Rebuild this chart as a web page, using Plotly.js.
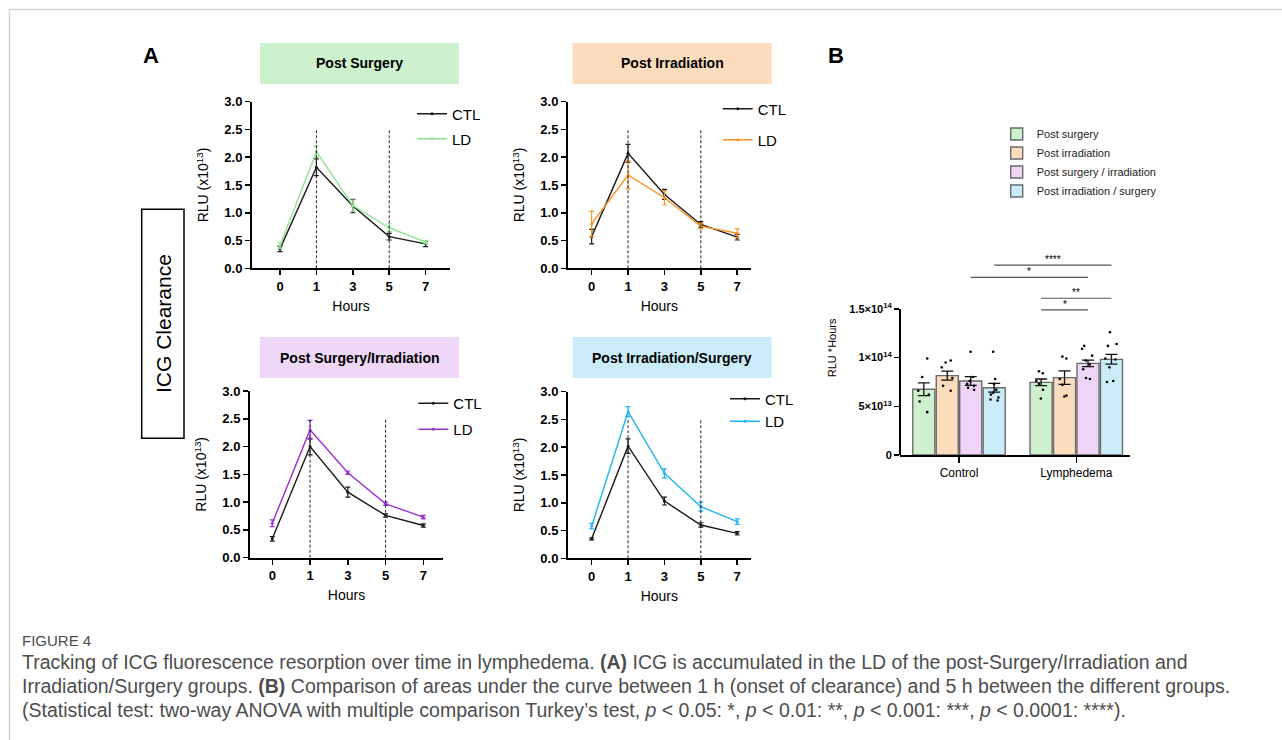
<!DOCTYPE html>
<html><head><meta charset="utf-8">
<script src="https://cdn.plot.ly/plotly-3.0.1.min.js"></script>
<style>html,body{margin:0;padding:0;background:#fff;} #chart{width:1282px;height:740px;}</style>
</head><body><div id="chart"></div>
<script>
// ---------- Panel A data (RLU x10^13) ----------
const hours = ['0', '1', '3', '5', '7'];
const clearanceWindow = ['1', '5'];
const surgeryCtl = [0.35, 1.82, 1.12, 0.57, 0.44];
const surgeryCtlSem = [0.05, 0.15, 0.12, 0.06, 0.05];
const surgeryLd = [0.41, 2.10, 1.13, 0.73, 0.47];
const surgeryLdSem = [0.05, 0.10, 0.10, 0.07, 0.03];
const irradiationCtl = [0.57, 2.07, 1.33, 0.79, 0.56];
const irradiationCtlSem = [0.13, 0.16, 0.09, 0.05, 0.05];
const irradiationLd = [0.80, 1.68, 1.27, 0.76, 0.63];
const irradiationLdSem = [0.23, 0.25, 0.13, 0.05, 0.08];
const surgIrrCtl = [0.34, 2.00, 1.18, 0.76, 0.58];
const surgIrrCtlSem = [0.04, 0.15, 0.09, 0.03, 0.03];
const surgIrrLd = [0.62, 2.30, 1.53, 0.97, 0.73];
const surgIrrLdSem = [0.06, 0.17, 0.03, 0.03, 0.03];
const irrSurgCtl = [0.35, 2.02, 1.03, 0.60, 0.45];
const irrSurgCtlSem = [0.02, 0.13, 0.07, 0.04, 0.03];
const irrSurgLd = [0.58, 2.64, 1.53, 0.93, 0.66];
const irrSurgLdSem = [0.05, 0.09, 0.08, 0.08, 0.05];

// ---------- Panel B data (RLU*Hours) ----------
const groups = ['Control', 'Lymphedema'];
const treatments = ['Post surgery', 'Post irradiation', 'Post surgery / irradiation', 'Post irradiation / surgery'];
const aucSurgery = [6.75e13, 7.46e13];
const aucSurgerySem = [0.65e13, 0.34e13];
const aucIrradiation = [8.15e13, 7.94e13];
const aucIrradiationSem = [0.47e13, 0.69e13];
const aucSurgIrr = [7.6e13, 9.41e13];
const aucSurgIrrSem = [0.45e13, 0.34e13];
const aucIrrSurg = [6.9e13, 9.82e13];
const aucIrrSurgSem = [0.45e13, 0.5e13];
const ctlSurgeryPts = [9.9e13, 8.0e13, 6.6e13, 6.2e13, 5.5e13, 4.4e13];
const ctlIrradiationPts = [9.7e13, 9.5e13, 9.0e13, 7.9e13, 7.1e13, 6.6e13];
const ctlSurgIrrPts = [10.6e13, 8.0e13, 7.6e13, 7.3e13, 7.1e13, 6.9e13, 6.7e13];
const ctlIrrSurgPts = [10.6e13, 7.8e13, 7.3e13, 6.7e13, 6.4e13, 6.2e13, 5.9e13, 5.7e13, 5.6e13];
const lymSurgeryPts = [8.6e13, 8.4e13, 7.6e13, 7.3e13, 6.7e13, 5.8e13];
const lymIrradiationPts = [10.1e13, 9.9e13, 7.8e13, 7.2e13, 6.1e13, 6.0e13];
const lymSurgIrrPts = [11.2e13, 10.9e13, 10.2e13, 9.7e13, 9.3e13, 8.8e13, 7.9e13, 7.8e13];
const lymIrrSurgPts = [12.6e13, 11.4e13, 11.2e13, 9.9e13, 9.8e13, 9.0e13, 7.6e13, 7.5e13];
const yTickVals = [0, 5e13, 1e14, 1.5e14];
const yTickText = ['0', '5×10<sup>13</sup>', '1×10<sup>14</sup>', '1.5×10<sup>14</sup>'];
// comparisons: [group, treatment index] pairs
const comparisons = [
  {a: [0, 3], b: [1, 3], level: 1.95e14, label: '****'},
  {a: [0, 2], b: [1, 2], level: 1.824e14, label: '*'},
  {a: [1, 0], b: [1, 3], level: 1.609e14, label: '**'},
  {a: [1, 0], b: [1, 2], level: 1.489e14, label: '*'}
];

// ---------- helpers / styles ----------
const W = 1282, H = 740;
const fx = p => p / W;
const fy = p => 1 - p / H;
const FONT = 'Liberation Sans, Arial, sans-serif';
const BARGAP = 0.2;
const fills = ['#cdf1cd', '#fbdcbc', '#efd6f6', '#c9ecf8'];

const panels = [
  {title: 'Post Surgery', ctl: surgeryCtl, ctlSem: surgeryCtlSem, ld: surgeryLd, ldSem: surgeryLdSem,
   ldColor: '#8fe58f', box: '#cdf1cd', xd: [252, 450], yd: [101.7, 268.3], xr: [-0.77, 4.67],
   tb: [260, 459, 43, 84], leg: [412, 97.5], gap: 2.5},
  {title: 'Post Irradiation', ctl: irradiationCtl, ctlSem: irradiationCtlSem, ld: irradiationLd, ldSem: irradiationLdSem,
   ldColor: '#f7931e', box: '#fbdcbc', xd: [568, 750.7], yd: [101.7, 268.3], xr: [-0.65, 4.37],
   tb: [572.7, 771.7, 43, 84], leg: [717.7, 92.5], gap: 8.5},
  {title: 'Post Surgery/Irradiation', ctl: surgIrrCtl, ctlSem: surgIrrCtlSem, ld: surgIrrLd, ldSem: surgIrrLdSem,
   ldColor: '#9b30d3', box: '#efd7f7', xd: [250, 443], yd: [391, 557.7], xr: [-0.59, 4.52],
   tb: [260, 459, 337, 378], leg: [413.3, 387], gap: 3.5},
  {title: 'Post Irradiation/Surgery', ctl: irrSurgCtl, ctlSem: irrSurgCtlSem, ld: irrSurgLd, ldSem: irrSurgLdSem,
   ldColor: '#1db4ef', box: '#c9ecf8', xd: [568, 750.7], yd: [391.7, 558.3], xr: [-0.65, 4.37],
   tb: [572.7, 771.7, 337, 378], leg: [725, 382.5], gap: 0}
];

const axisBase = {showline: true, linecolor: '#000', linewidth: 2, ticks: 'outside', ticklen: 5,
  tickwidth: 1.5, tickcolor: '#000', showgrid: false, zeroline: false, fixedrange: true};
const boldTick = {family: FONT, size: 13, color: '#000', weight: 'bold'};

const traces = [];
const shapes = [];
const annotations = [];
const layout = {
  width: W, height: H, margin: {l: 0, r: 0, t: 0, b: 0},
  paper_bgcolor: '#fff', plot_bgcolor: 'rgba(0,0,0,0)',
  font: {family: FONT, color: '#000'},
  showlegend: true,
  barmode: 'group', bargap: BARGAP, bargroupgap: 0.06,
  boxmode: 'group', boxgap: BARGAP, boxgroupgap: 0.3
};

panels.forEach((p, i) => {
  const n = i + 1;
  const xa = 'x' + (n === 1 ? '' : n), ya = 'y' + (n === 1 ? '' : n);
  const legName = 'legend' + (n === 1 ? '' : n);
  layout['xaxis' + (n === 1 ? '' : n)] = Object.assign({}, axisBase, {
    domain: [fx(p.xd[0]), fx(p.xd[1])], anchor: ya, type: 'category',
    categoryorder: 'array', categoryarray: hours, range: p.xr, tickfont: boldTick,
    title: {text: 'Hours', font: {family: FONT, size: 14, color: '#000'}, standoff: 8}
  });
  layout['yaxis' + (n === 1 ? '' : n)] = Object.assign({}, axisBase, {
    domain: [fy(p.yd[1]), fy(p.yd[0])], anchor: xa, range: [0, 3], tick0: 0, dtick: 0.5,
    tickformat: '.1f', tickfont: boldTick,
    title: {text: 'RLU (x10<sup>13</sup>)', font: {family: FONT, size: 14, color: '#000'}, standoff: 12}
  });
  layout[legName] = {x: fx(p.leg[0]), y: fy(p.leg[1]), xanchor: 'left', yanchor: 'top',
    bgcolor: 'rgba(0,0,0,0)', borderwidth: 0, tracegroupgap: p.gap, traceorder: 'grouped',
    font: {family: FONT, size: 15, color: '#000'}};
  traces.push({
    type: 'scatter', mode: 'lines+markers', name: 'CTL', x: hours, y: p.ctl,
    xaxis: xa, yaxis: ya, legend: legName, legendgroup: 'ctl' + n,
    line: {color: '#1a1a1a', width: 1.4}, marker: {color: '#1a1a1a', size: 3},
    error_y: {type: 'data', array: p.ctlSem, visible: true, color: '#1a1a1a', thickness: 1.2, width: 2.5}
  });
  traces.push({
    type: 'scatter', mode: 'lines+markers', name: 'LD', x: hours, y: p.ld,
    xaxis: xa, yaxis: ya, legend: legName, legendgroup: 'ld' + n,
    line: {color: p.ldColor, width: 1.4}, marker: {color: p.ldColor, size: 3},
    error_y: {type: 'data', array: p.ldSem, visible: true, color: p.ldColor, thickness: 1.2, width: 2.5}
  });
  clearanceWindow.forEach(h => {
    const idx = hours.indexOf(h);
    shapes.push({type: 'line', xref: xa, yref: ya, x0: idx, x1: idx, y0: 0, y1: 2.5,
      line: {color: '#222', width: 1, dash: '3px,2px'}});
  });
  shapes.push({type: 'rect', xref: 'paper', yref: 'paper', x0: fx(p.tb[0]), x1: fx(p.tb[1]),
    y0: fy(p.tb[3]), y1: fy(p.tb[2]), fillcolor: p.box, line: {width: 0}, layer: 'below'});
  annotations.push({xref: 'paper', yref: 'paper', x: fx((p.tb[0] + p.tb[1]) / 2), y: fy((p.tb[2] + p.tb[3]) / 2),
    text: '<b>' + p.title + '</b>', showarrow: false, font: {family: FONT, size: 14, color: '#000'},
    xanchor: 'center', yanchor: 'middle'});
});

// ---------- Panel B ----------
const aucMeans = [aucSurgery, aucIrradiation, aucSurgIrr, aucIrrSurg];
const aucSems = [aucSurgerySem, aucIrradiationSem, aucSurgIrrSem, aucIrrSurgSem];
const ctlPts = [ctlSurgeryPts, ctlIrradiationPts, ctlSurgIrrPts, ctlIrrSurgPts];
const lymPts = [lymSurgeryPts, lymIrradiationPts, lymSurgIrrPts, lymIrrSurgPts];

treatments.forEach((t, k) => {
  traces.push({
    type: 'bar', name: t, x: groups, y: aucMeans[k], xaxis: 'x5', yaxis: 'y5', legend: 'legend5',
    marker: {color: fills[k], line: {color: '#6a6a6a', width: 1.4}},
    error_y: {type: 'data', array: aucSems[k], visible: true, color: '#111', thickness: 1.3, width: 6}
  });
});
treatments.forEach((t, k) => {
  const xs = ctlPts[k].map(() => groups[0]).concat(lymPts[k].map(() => groups[1]));
  traces.push({
    type: 'box', name: t + ' points', x: xs, y: ctlPts[k].concat(lymPts[k]),
    xaxis: 'x5', yaxis: 'y5', showlegend: false, boxpoints: 'all', jitter: 0.8, pointpos: 0,
    fillcolor: 'rgba(0,0,0,0)', line: {width: 0, color: 'rgba(0,0,0,0)'}, whiskerwidth: 0,
    marker: {color: '#000', size: 2.6}, hoverinfo: 'skip'
  });
});

layout.xaxis5 = Object.assign({}, axisBase, {
  domain: [fx(900), fx(1130)], anchor: 'y5', type: 'category', range: [-0.503, 1.458],
  ticklen: 6, tickfont: {family: FONT, size: 12, color: '#000'}
});
layout.yaxis5 = Object.assign({}, axisBase, {
  domain: [fy(455), fy(240.7)], anchor: 'x5', range: [0, 2.2e14], showline: false,
  tickmode: 'array', tickvals: yTickVals, ticktext: yTickText,
  tickfont: {family: FONT, size: 11, color: '#000', weight: 'bold'},
  title: {text: 'RLU *Hours', font: {family: FONT, size: 11, color: '#000'}, standoff: 10}
});
layout.legend5 = {x: fx(996.7), y: fy(119.5), xanchor: 'left', yanchor: 'top',
  bgcolor: 'rgba(0,0,0,0)', borderwidth: 0, font: {family: FONT, size: 11, color: '#222'}};

// y axis line of panel B stops at the top tick
shapes.push({type: 'line', xref: 'paper', yref: 'y5', x0: fx(900), x1: fx(900),
  y0: yTickVals[0], y1: yTickVals[yTickVals.length - 1], line: {color: '#000', width: 2}});

const barCenter = (g, s) => g + (1 - BARGAP) * ((s + 0.5) / treatments.length - 0.5);
comparisons.forEach(c => {
  const xa0 = barCenter(c.a[0], c.a[1]), xb0 = barCenter(c.b[0], c.b[1]);
  shapes.push({type: 'line', xref: 'x5', yref: 'y5', x0: xa0, x1: xb0, y0: c.level, y1: c.level,
    line: {color: '#555', width: 1.2}});
  annotations.push({xref: 'x5', yref: 'y5', x: (xa0 + xb0) / 2, y: c.level, text: c.label,
    showarrow: false, xanchor: 'center', yanchor: 'bottom', yshift: -2,
    font: {family: FONT, size: 10, color: '#000'}});
});

// ---------- frame, labels, caption ----------
shapes.push({type: 'line', xref: 'paper', yref: 'paper', x0: fx(9), x1: 1, y0: fy(9.5), y1: fy(9.5),
  line: {color: '#d4d4d4', width: 1.5}});
shapes.push({type: 'line', xref: 'paper', yref: 'paper', x0: fx(9.5), x1: fx(9.5), y0: fy(9), y1: 0,
  line: {color: '#d4d4d4', width: 1.5}});
shapes.push({type: 'rect', xref: 'paper', yref: 'paper', x0: fx(141.7), x1: fx(184), y0: fy(438.3), y1: fy(209.3),
  line: {color: '#000', width: 1.5}});
annotations.push({xref: 'paper', yref: 'paper', x: fx(163), y: fy(324), text: 'ICG Clearance', textangle: -90,
  xanchor: 'center', yanchor: 'middle',
  showarrow: false, font: {family: FONT, size: 21, color: '#000'}});
annotations.push({xref: 'paper', yref: 'paper', x: fx(151), y: fy(55), text: '<b>A</b>',
  xanchor: 'center', yanchor: 'middle',
  showarrow: false, font: {family: FONT, size: 22, color: '#000'}});
annotations.push({xref: 'paper', yref: 'paper', x: fx(836), y: fy(55), text: '<b>B</b>',
  xanchor: 'center', yanchor: 'middle',
  showarrow: false, font: {family: FONT, size: 22, color: '#000'}});

const captionColor = '#4d4d4d';
annotations.push({xref: 'paper', yref: 'paper', x: fx(20), y: fy(640), xanchor: 'left', yanchor: 'middle',
  text: 'FIGURE 4', showarrow: false, font: {family: FONT, size: 15, color: captionColor}});
const captionLines = [
  'Tracking of ICG fluorescence resorption over time in lymphedema. <b>(A)</b> ICG is accumulated in the LD of the post-Surgery/Irradiation and',
  'Irradiation/Surgery groups. <b>(B)</b> Comparison of areas under the curve between 1 h (onset of clearance) and 5 h between the different groups.',
  '(Statistical test: two-way ANOVA with multiple comparison Turkey’s test, <i>p</i> &lt; 0.05: *, <i>p</i> &lt; 0.01: **, <i>p</i> &lt; 0.001: ***, <i>p</i> &lt; 0.0001: ****).'
];
const captionY = [662, 686, 710];
captionLines.forEach((t, i) => {
  annotations.push({xref: 'paper', yref: 'paper', x: fx(20), y: fy(captionY[i]), xanchor: 'left', yanchor: 'middle',
    text: t, showarrow: false, font: {family: FONT, size: 19.5, color: captionColor}});
});

layout.shapes = shapes;
layout.annotations = annotations;

Plotly.newPlot('chart', traces, layout, {staticPlot: true, displayModeBar: false});
</script>
</body></html>
